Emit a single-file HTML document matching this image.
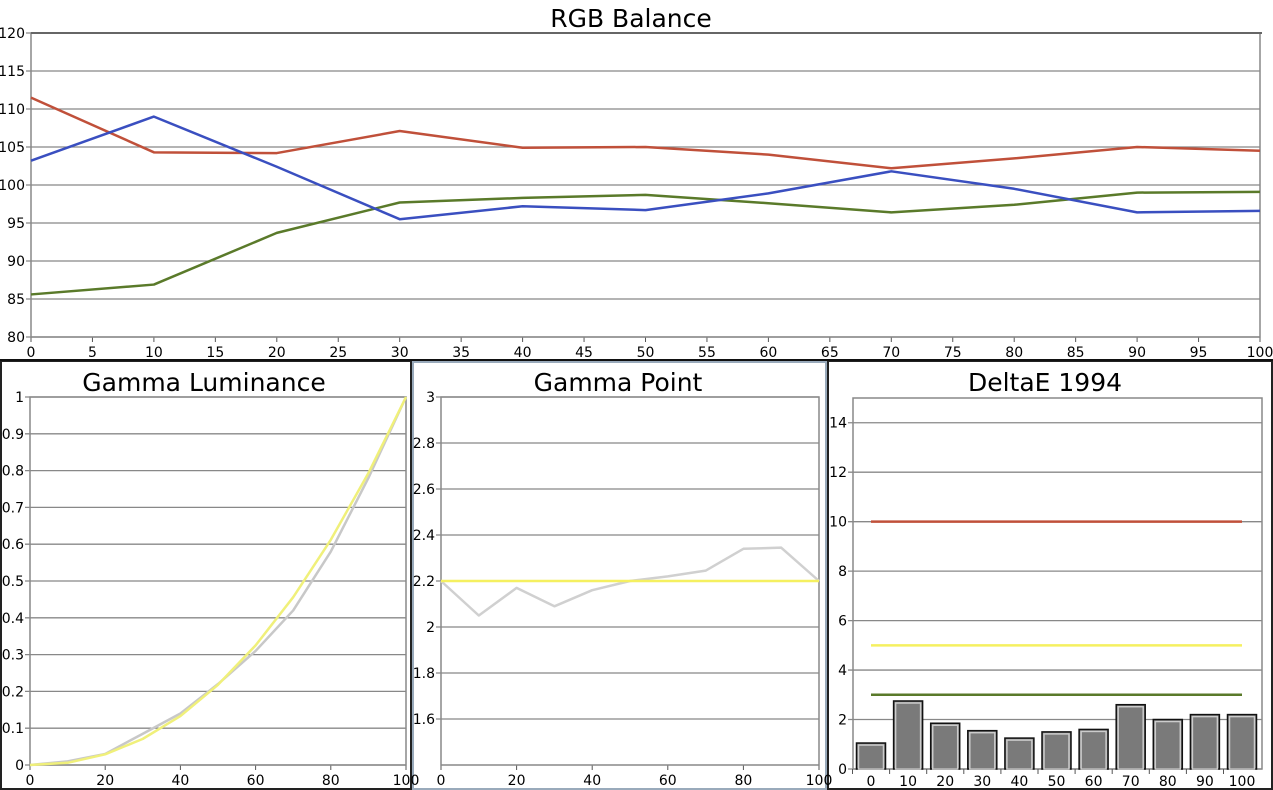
<!DOCTYPE html>
<html><head><meta charset="utf-8"><style>
body{margin:0;background:#fff;width:1273px;height:790px;overflow:hidden;font-family:"DejaVu Sans","Liberation Sans",sans-serif}
svg{position:absolute;left:0;top:0}
</style></head><body>
<svg id="s" width="1273" height="790"></svg>
<script>
const rgbX=[0,10,20,30,40,50,60,70,80,90,100];
const redVals=[111.5,104.3,104.2,107.1,104.9,105,104,102.2,103.5,105,104.5];
const blueVals=[103.2,109,102.4,95.5,97.2,96.7,98.9,101.8,99.5,96.4,96.6];
const greenVals=[85.6,86.9,93.7,97.7,98.3,98.7,97.6,96.4,97.4,99,99.1];
const rgbYTicks=[80,85,90,95,100,105,110,115,120];
const rgbXTicks=[0,5,10,15,20,25,30,35,40,45,50,55,60,65,70,75,80,85,90,95,100];
const lumMeasured=[0,0.01,0.03,0.085,0.14,0.22,0.31,0.42,0.58,0.78,1];
const lumTarget=[0,0.006,0.029,0.071,0.133,0.218,0.325,0.456,0.612,0.793,1];
const lumYTicks=[0,0.1,0.2,0.3,0.4,0.5,0.6,0.7,0.8,0.9,1];
const lumXTicks=[0,20,40,60,80,100];
const gpMeasured=[2.2,2.05,2.17,2.09,2.16,2.2,2.22,2.245,2.34,2.345,2.2];
const gpTarget=[2.2,2.2];
const gpYTicks=[1.6,1.8,2,2.2,2.4,2.6,2.8,3];
const deCats=["0","10","20","30","40","50","60","70","80","90","100"];
const deVals=[1.05,2.75,1.85,1.55,1.25,1.5,1.6,2.6,2.0,2.2,2.2];
const deYTicks=[0,2,4,6,8,10,12,14];
const deLimits=[10,5,3];

const S=document.getElementById('s');const NS='http://www.w3.org/2000/svg';
function el(t,a,txt){const e=document.createElementNS(NS,t);for(const k in a)e.setAttribute(k,a[k]);if(txt!==undefined)e.textContent=txt;S.appendChild(e);return e;}
function lin(d0,d1,r0,r1){return v=>r0+(v-d0)/(d1-d0)*(r1-r0);}
function axes(name,x0,x1,y0,y1,xs,ys,xt,yt,fmt){
  for(const t of yt){const y=ys(t);
    const g=el('line',{x1:x0-5,x2:x1,y1:y,y2:y,stroke:'#888','stroke-width':1.3});
    
    const l=el('text',{x:x0-6,y:y+5,'text-anchor':'end','font-size':14,fill:'#000'},fmt?fmt(t):String(t));
    }
  if(xt)for(const t of xt){const x=xs(t);
    el('line',{x1:x,x2:x,y1:y0,y2:y0+5,stroke:'#555'});
    const l=el('text',{x:x,y:y0+20,'text-anchor':'middle','font-size':14},String(t));
    }
  const b=el('rect',{x:x0,y:y1,width:x1-x0,height:y0-y1,fill:'none',stroke:'#888','stroke-width':1.5});
  
}
function line(name,xa,ya,xs,ys,col,w){
  const p=el('polyline',{points:xa.map((x,i)=>xs(x)+','+ys(ya[i])).join(' '),fill:'none',stroke:col,'stroke-width':w||2.5,'stroke-linejoin':'round'});
  }
function title(name,x,y,t){const e=el('text',{x:x,y:y,'text-anchor':'middle','font-size':25},t);
  }

let r=el('rect',{x:1,y:361,width:410,height:428,fill:'none',stroke:'#222','stroke-width':2});
r=el('rect',{x:413,y:362,width:413,height:427,fill:'none',stroke:'#9ab','stroke-width':2});
r=el('rect',{x:828,y:361,width:444,height:428,fill:'none',stroke:'#222','stroke-width':2});
r=el('line',{x1:0,x2:1273,y1:360,y2:360,stroke:'#111','stroke-width':2});

{const xs=lin(0,100,31,1260),ys=lin(80,120,337,33);
title('rgb-title',631,27,'RGB Balance');
axes('rgb',31,1260,337,33,xs,ys,rgbXTicks,rgbYTicks);
el('line',{x1:31,x2:1262,y1:33,y2:33,stroke:'#666','stroke-width':2});
line('red-series',rgbX,redVals,xs,ys,'#c0503a');
line('green-series',rgbX,greenVals,xs,ys,'#5a7a2a');
line('blue-series',rgbX,blueVals,xs,ys,'#3a4fc0');}

{const xs=lin(0,100,30,406),ys=lin(0,1,765,397);
title('gamma-luminance-title',204,391,'Gamma Luminance');
axes('lum',30,406,765,397,xs,ys,lumXTicks,lumYTicks);
line('luminance-measured',rgbX,lumMeasured,xs,ys,'#c8c8c8',2.5);
line('luminance-target',rgbX,lumTarget,xs,ys,'#f0f07a',2.5);}

{const xs=lin(0,100,441,819),ys=lin(1.4,3,765,397);
title('gamma-point-title',618,391,'Gamma Point');
axes('gp',441,819,765,397,xs,ys,lumXTicks,gpYTicks);
line('gamma-measured',rgbX,gpMeasured,xs,ys,'#d0d0d0',2.5);
line('gamma-target',[0,100],gpTarget,xs,ys,'#f5f060',2.5);}

{const ys=lin(0,15,769,398);const x0=853,x1=1262;
const xc=i=>871+i*37.1;
title('deltae-title',1045,391,'DeltaE 1994');
axes('de',x0,x1,769,398,null,ys,null,deYTicks);
const cols=['#c0503a','#f5f060','#5a7a2a'];
deLimits.forEach((v,i)=>line('deltae-limit-'+v,[0,10],[v,v],k=>xc(k),ys,cols[i],2.5));
deVals.forEach((v,i)=>{const b=el('rect',{x:xc(i)-14.5,y:ys(v),width:29,height:ys(0)-ys(v),fill:'#7a7a7a',stroke:'#111','stroke-width':1.5});
 
 el('rect',{x:xc(i)-12.5,y:ys(v)+2,width:25,height:ys(0)-ys(v)-2,fill:'none',stroke:'#ccc','stroke-width':1.5});
 const t=el('text',{x:xc(i),y:786,'text-anchor':'middle','font-size':14},deCats[i]);
 
 el('line',{x1:xc(i)-18.5,x2:xc(i)-18.5,y1:769,y2:774,stroke:'#555'});});}
</script>
</body></html>
